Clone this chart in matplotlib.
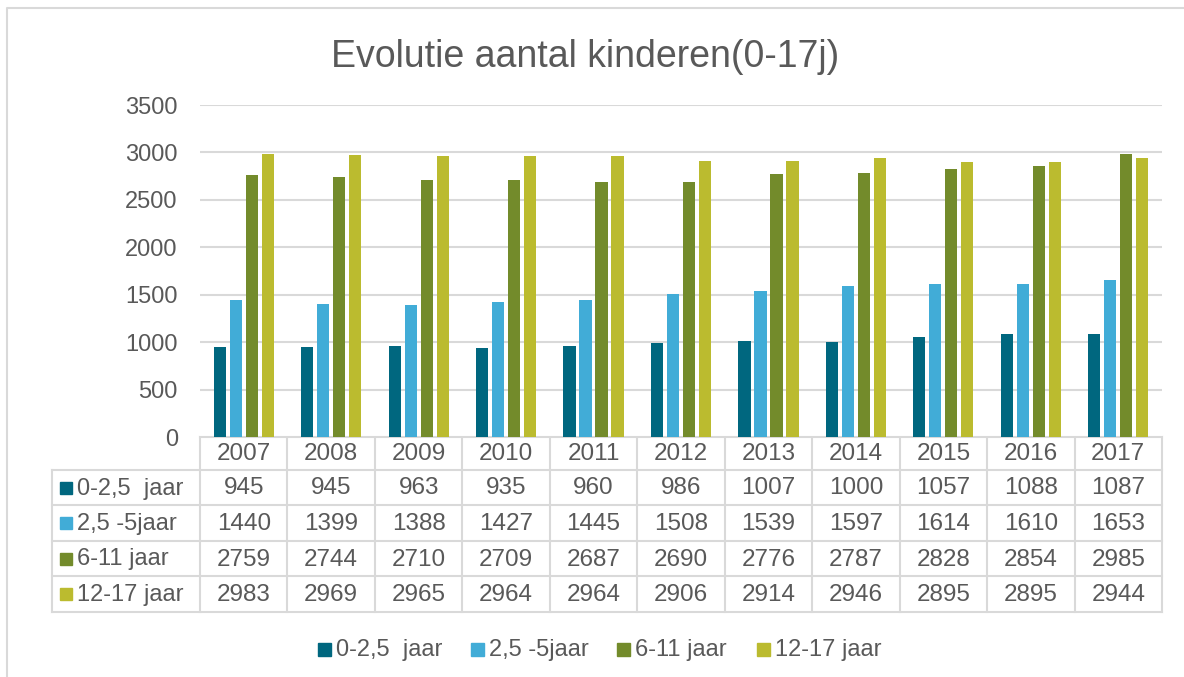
import matplotlib.pyplot as plt
from matplotlib.lines import Line2D
from matplotlib.patches import Rectangle
import numpy as np

plt.rcParams['font.family'] = ['Liberation Sans', 'DejaVu Sans']

# data
years = ['2007', '2008', '2009', '2010', '2011', '2012', '2013', '2014', '2015', '2016', '2017']
series_names = ['0-2,5  jaar', '2,5 -5jaar', '6-11 jaar', '12-17 jaar']
age_0_2 = [945, 945, 963, 935, 960, 986, 1007, 1000, 1057, 1088, 1087]
age_2_5 = [1440, 1399, 1388, 1427, 1445, 1508, 1539, 1597, 1614, 1610, 1653]
age_6_11 = [2759, 2744, 2710, 2709, 2687, 2690, 2776, 2787, 2828, 2854, 2985]
age_12_17 = [2983, 2969, 2965, 2964, 2964, 2906, 2914, 2946, 2895, 2895, 2944]
colors = ['#00677F', '#41ACD7', '#738B2B', '#BBBB2F']

series = [age_0_2, age_2_5, age_6_11, age_12_17]
txt = '#595959'
grid = '#D9D9D9'

W, H = 1184, 677
fig = plt.figure(figsize=(W / 100, H / 100), dpi=100)

# pixel-space helpers
def fx(px):
    return px / W

def fy(py):
    return 1 - py / H

left, right, top, bottom = 200, 1162, 105, 437
ax = fig.add_axes([fx(left), fy(bottom), fx(right - left), fy(top) - fy(bottom)])

x = np.arange(len(years))
offsets = [-1.5, -0.5, 0.5, 1.5]
for vals, off, c, name in zip(series, offsets, colors, series_names):
    ax.bar(x + off * 0.183, vals, width=0.14, color=c, label=name, zorder=3)

ax.set_xlim(-0.5, len(years) - 0.5)
ax.set_ylim(0, 3500)
ax.set_yticks(np.arange(0, 3501, 500))
ax.tick_params(axis='y', length=0, pad=16, labelsize=17, labelcolor=txt)
ax.set_xticks([])
ax.grid(axis='y', color=grid, lw=1.5, zorder=0)
for s in ax.spines.values():
    s.set_visible(False)

# overlay in pixel coordinates for border, table and legend
ov = fig.add_axes([0, 0, 1, 1], zorder=-1)
ov.set_xlim(0, W)
ov.set_ylim(H, 0)
ov.axis('off')

# chart border
ov.add_line(Line2D([7, 7, W], [H, 8, 8], color=grid, lw=1.5))

ov.text(585.5, 57, 'Evolutie aantal kinderen(0-17j)', ha='center', va='center',
        fontsize=27, color=txt)

# data table
col_w = (right - left) / len(years)
row_y = [437, 470, 505, 541, 576, 612]
lab_left = 52
lw = 1.5
ov.add_line(Line2D([left, right], [row_y[0], row_y[0]], color=grid, lw=lw))
for yy in row_y[1:]:
    ov.add_line(Line2D([lab_left, right], [yy, yy], color=grid, lw=lw))
ov.add_line(Line2D([lab_left, lab_left], [row_y[1], row_y[-1]], color=grid, lw=lw))
for i in range(len(years) + 1):
    xx = left + i * col_w
    ov.add_line(Line2D([xx, xx], [row_y[0], row_y[-1]], color=grid, lw=lw))

for i, yr in enumerate(years):
    cx = left + (i + 0.5) * col_w
    ov.text(cx, (row_y[0] + row_y[1]) / 2 + 1, yr, ha='center', va='center',
            fontsize=17.5, color=txt)
    for r, vals in enumerate(series):
        cy = (row_y[r + 1] + row_y[r + 2]) / 2 + 1
        ov.text(cx, cy, str(vals[i]), ha='center', va='center', fontsize=17.5, color=txt)

for r, (name, c) in enumerate(zip(series_names, colors)):
    cy = (row_y[r + 1] + row_y[r + 2]) / 2
    ov.add_patch(Rectangle((60, cy - 6), 12, 12, color=c))
    ov.text(77, cy + 1, name, ha='left', va='center', fontsize=17, color=txt)

# legend
leg_x = [318, 471, 617, 757]
leg_y = 649
for lx, name, c in zip(leg_x, series_names, colors):
    ov.add_patch(Rectangle((lx, leg_y - 6.5), 13, 13, color=c))
    ov.text(lx + 18, leg_y + 1, name, ha='left', va='center', fontsize=17, color=txt)

fig.savefig('out.png', dpi=100)
